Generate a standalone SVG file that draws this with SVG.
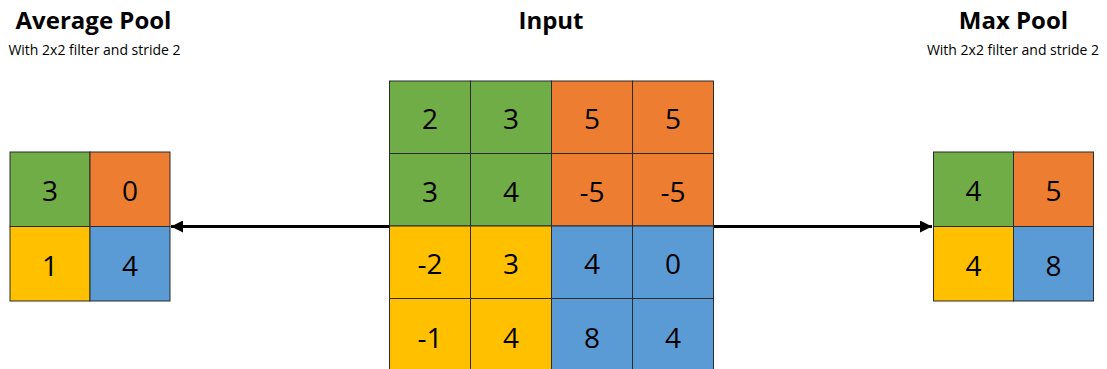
<svg xmlns="http://www.w3.org/2000/svg" width="1107" height="369" viewBox="0 0 1107 369">
<defs>
<style>
.g{fill:#70AD47}.o{fill:#ED7D31}.y{fill:#FFC000}.b{fill:#5B9BD5}
rect{stroke:#2b2b2b;stroke-width:1}
.n{font-family:"Open Sans","Liberation Sans",sans-serif;font-size:28px;fill:#000;text-anchor:middle}
.t{font-family:"Open Sans","Liberation Sans",sans-serif;font-size:24px;font-weight:bold;fill:#000;text-anchor:middle}
.s{font-family:"Open Sans","Liberation Sans",sans-serif;font-size:14px;fill:#000;text-anchor:middle}
.c{stroke:#000;stroke-width:3;fill:none}
</style>
<marker id="ah" viewBox="0 0 10 10" refX="10" refY="5" markerWidth="4" markerHeight="4" orient="auto"><path d="M0,0 L10,5 L0,10 z" fill="#000"/></marker>
</defs>
<g id="titles">
<text class="t" x="93.5" y="29">Average Pool</text>
<text class="s" x="94.5" y="55">With 2x2 filter and stride 2</text>
<text class="t" x="551" y="29">Input</text>
<text class="t" x="1013.5" y="29">Max Pool</text>
<text class="s" x="1013" y="55">With 2x2 filter and stride 2</text>
</g>
<g id="connectors">
<line class="c" x1="389" y1="226.5" x2="171" y2="226.5" marker-end="url(#ah)"/>
<line class="c" x1="713" y1="226.5" x2="932" y2="226.5" marker-end="url(#ah)"/>
</g>
<g id="input">
<rect class="g" x="389.5" y="81" width="81" height="72.5"/>
<rect class="g" x="470.5" y="81" width="81" height="72.5"/>
<rect class="o" x="551.5" y="81" width="81" height="72.5"/>
<rect class="o" x="632.5" y="81" width="81" height="72.5"/>
<rect class="g" x="389.5" y="153.5" width="81" height="72.5"/>
<rect class="g" x="470.5" y="153.5" width="81" height="72.5"/>
<rect class="o" x="551.5" y="153.5" width="81" height="72.5"/>
<rect class="o" x="632.5" y="153.5" width="81" height="72.5"/>
<rect class="y" x="389.5" y="226" width="81" height="72.5"/>
<rect class="y" x="470.5" y="226" width="81" height="72.5"/>
<rect class="b" x="551.5" y="226" width="81" height="72.5"/>
<rect class="b" x="632.5" y="226" width="81" height="72.5"/>
<rect class="y" x="389.5" y="298.5" width="81" height="72.5"/>
<rect class="y" x="470.5" y="298.5" width="81" height="72.5"/>
<rect class="b" x="551.5" y="298.5" width="81" height="72.5"/>
<rect class="b" x="632.5" y="298.5" width="81" height="72.5"/>
<text class="n" x="430" y="129">2</text>
<text class="n" x="511" y="129">3</text>
<text class="n" x="592" y="129">5</text>
<text class="n" x="673" y="129">5</text>
<text class="n" x="430" y="201.5">3</text>
<text class="n" x="511" y="201.5">4</text>
<text class="n" x="592" y="201.5">-5</text>
<text class="n" x="673" y="201.5">-5</text>
<text class="n" x="430" y="274">-2</text>
<text class="n" x="511" y="274">3</text>
<text class="n" x="592" y="274">4</text>
<text class="n" x="673" y="274">0</text>
<text class="n" x="430" y="347.5">-1</text>
<text class="n" x="511" y="347.5">4</text>
<text class="n" x="592" y="347.5">8</text>
<text class="n" x="673" y="347.5">4</text>
</g>
<g id="avgpool">
<rect class="g" x="10" y="152" width="80" height="74.5"/>
<rect class="o" x="90" y="152" width="80" height="74.5"/>
<rect class="y" x="10" y="226.5" width="80" height="74.5"/>
<rect class="b" x="90" y="226.5" width="80" height="74.5"/>
<text class="n" x="50" y="201">3</text>
<text class="n" x="130" y="201">0</text>
<text class="n" x="50" y="276">1</text>
<text class="n" x="130" y="276">4</text>
</g>
<g id="maxpool">
<rect class="g" x="933.5" y="152" width="80" height="74.5"/>
<rect class="o" x="1013.5" y="152" width="80" height="74.5"/>
<rect class="y" x="933.5" y="226.5" width="80" height="74.5"/>
<rect class="b" x="1013.5" y="226.5" width="80" height="74.5"/>
<text class="n" x="973.5" y="201">4</text>
<text class="n" x="1053.5" y="201">5</text>
<text class="n" x="973.5" y="276">4</text>
<text class="n" x="1053.5" y="276">8</text>
</g>
</svg>
